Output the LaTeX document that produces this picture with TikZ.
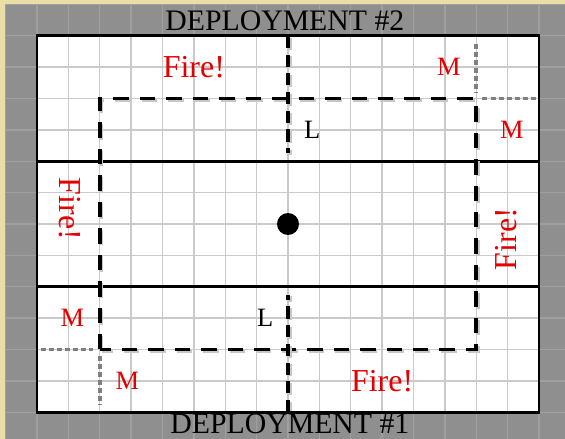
\documentclass[tikz,border=0pt]{standalone}
\usepackage{fontspec}
\setmainfont{Liberation Serif}
\definecolor{parchment}{RGB}{233,222,165}
\definecolor{framegray}{RGB}{143,143,143}
\definecolor{framegrid}{RGB}{160,160,160}
\definecolor{boardgrid}{RGB}{202,202,202}
\definecolor{firered}{RGB}{228,0,0}
\begin{document}
\begin{tikzpicture}[
  zone/.style={line width=2.6pt, draw=black},
  deploy/.style={line width=3.2pt, dash pattern=on 14pt off 10pt,
    preaction={draw=black!22, line width=3.2pt, dash pattern=on 14pt off 10pt,
      transform canvas={shift={(1.6pt,-1.6pt)}}}},
  midline/.style={line width=3.2pt, dash pattern=on 11pt off 6pt,
    preaction={draw=black!22, line width=3.2pt, dash pattern=on 11pt off 6pt,
      transform canvas={shift={(1.6pt,-1.6pt)}}}},
  mline/.style={line width=3.2pt, draw=black!50, dash pattern=on 4.5pt off 2.8pt},
  lbl/.style={font=\fontsize{27}{30}\selectfont, inner sep=0pt},
  small/.style={font=\fontsize{24}{28}\selectfont, inner sep=0pt},
  fire/.style={font=\fontsize{29}{32}\selectfont, inner sep=0pt, text=firered}
]
  \useasboundingbox (-1.18,-0.85) rectangle (16.83,13.14);

  % Background and grey frame one square wide
  \fill[parchment] (-1.18,-0.85) rectangle (16.83,13.14);
  \fill[framegray] (-1,-1) rectangle (17,13);
  \draw[framegrid, line width=1.2pt] (-1,-1) grid (17,13);

  % Board 16 x 12
  \fill[white] (0,0) rectangle (16,12);
  \draw[boardgrid, line width=1.2pt] (0,0) grid (16,12);

  % Deployment zones
  \draw[zone] (0,4) -- (16,4);
  \draw[zone] (0,8) -- (16,8);

  % Dashed lines
  \draw[deploy] (2,2) rectangle (14,10);
  \draw[midline] (8,12) -- (8,8.25);
  \draw[midline] (8,0) -- (8,3.75);

  % Grey dotted corners
  \draw[mline] (14,11.75) -- (14,10.2);
  \draw[mline] (14.2,10) -- (15.9,10);
  \draw[mline] (0.12,2) -- (1.8,2);
  \draw[mline] (2,1.8) -- (2,0.25);

  \draw[zone] (0,0) rectangle (16,12);

  % Objective
  \node[circle, fill=black, inner sep=0pt, minimum size=0.7cm] (obj) at (8,6) {};

  % Labels
  \node[lbl] (dep2) at (7.9,12.47) {DEPLOYMENT \#2};
  \node[lbl] (dep1) at (8.06,-0.37) {DEPLOYMENT \#1};
  \node[fire] (fireN) at (5,11) {Fire!};
  \node[fire] (fireS) at (11,1) {Fire!};
  \node[fire, rotate=-90] (fireW) at (1.05,6.48) {Fire!};
  \node[fire, rotate=90] (fireE) at (14.95,5.52) {Fire!};
  \node[small, text=firered] (mN) at (13.13,11) {M};
  \node[small, text=firered] (mE) at (15.14,9) {M};
  \node[small, text=firered] (mW) at (1.13,3) {M};
  \node[small, text=firered] (mS) at (2.88,1) {M};
  \node[small] (lN) at (8.77,9) {L};
  \node[small] (lS) at (7.27,3) {L};
\end{tikzpicture}
\end{document}
